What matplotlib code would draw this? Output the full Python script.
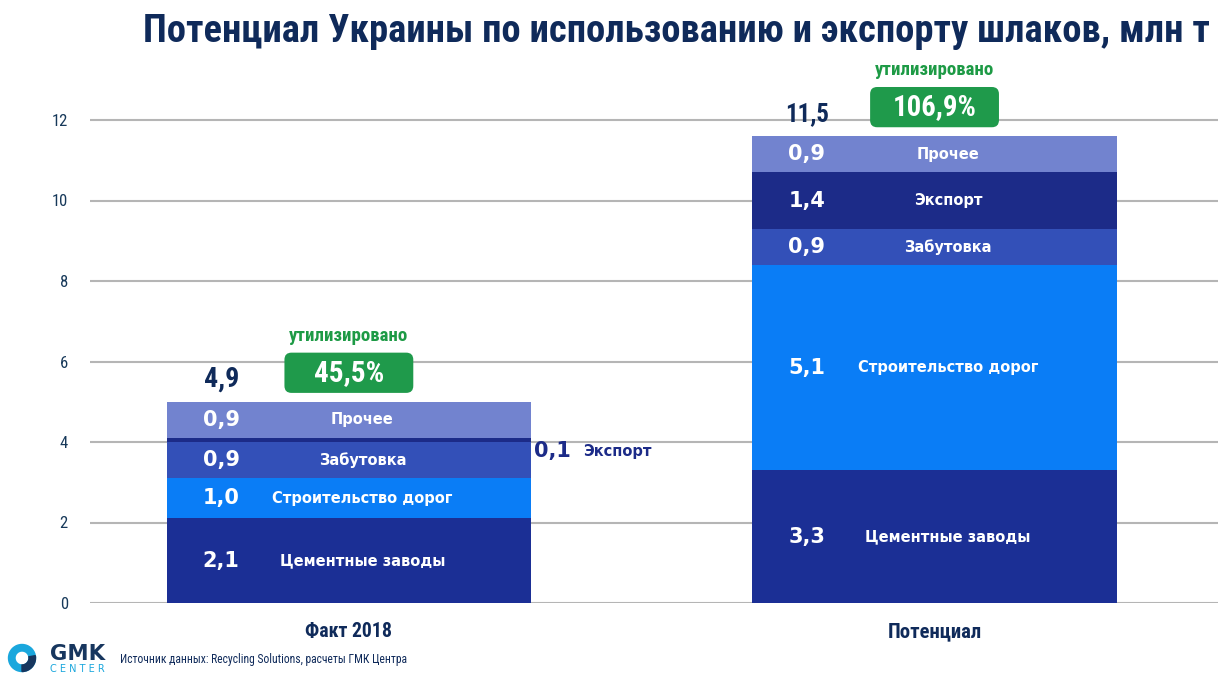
import matplotlib
matplotlib.use("Agg")
import matplotlib.pyplot as plt
from matplotlib.patches import FancyBboxPatch, Wedge

# ---- data ----
groups = ["Факт 2018", "Потенциал"]
segments = ["Цементные заводы", "Строительство дорог", "Забутовка", "Экспорт", "Прочее"]
fact_values = [2.1, 1.0, 0.9, 0.1, 0.9]
potential_values = [3.3, 5.1, 0.9, 1.4, 0.9]
totals = ["4,9", "11,5"]
utilized = ["45,5%", "106,9%"]
yticks = [0, 2, 4, 6, 8, 10, 12]

seg_colors = ["#1b2f95", "#0a7df6", "#3350b8", "#1c2b88", "#7283cf"]
navy = "#0f2a5a"
green = "#1f9a4b"

narrow = ["Liberation Sans Narrow", "Roboto Condensed", "Liberation Sans", "DejaVu Sans"]
plt.rcParams["font.family"] = narrow

W, H = 1218, 673
fig = plt.figure(figsize=(W / 100, H / 100), dpi=100)
fig.patch.set_facecolor("white")
renderer = fig.canvas.get_renderer()


def fit_width(txt, target_px):
    """Scale a text's font size so that it spans target_px pixels."""
    w = txt.get_window_extent(renderer=renderer).width
    if w > 0:
        txt.set_fontsize(txt.get_fontsize() * target_px / w)
    return txt


# axes: left edge at x=90px, value 0 at y=603px, 40.25px per unit
ax_left, ax_bottom_px, ax_top_px = 90, 603, 40
ppu = 40.25
ppx = 585.5  # pixels per x unit
ymax = (ax_bottom_px - ax_top_px) / ppu
ax = fig.add_axes([ax_left / W, (H - ax_bottom_px) / H, (W - ax_left) / W,
                   (ax_bottom_px - ax_top_px) / H])
ax.set_facecolor("white")

xpos = [0, 1]
bar_w = 0.622
ax.set_xlim(-0.442, 1.484)
ax.set_ylim(0, ymax)

for y in yticks:
    ax.axhline(y, color="#b5b5b5", lw=1.5, zorder=0)

for xi, vals in zip(xpos, [fact_values, potential_values]):
    bottom = 0
    for v, c in zip(vals, seg_colors):
        ax.bar(xi, v, bar_w, bottom=bottom, color=c, zorder=2, linewidth=0)
        bottom += v


def fmt(v):
    return f"{v:.1f}".replace(".", ",")


val_dx = -0.218
lab_dx = 0.023
for xi, vals in zip(xpos, [fact_values, potential_values]):
    bottom = 0
    for v, name in zip(vals, segments):
        mid = bottom + v / 2
        if v >= 0.5:
            ax.text(xi + val_dx, mid, fmt(v), color="white", fontsize=15,
                    fontweight="bold", family="DejaVu Sans", ha="center", va="center", zorder=3)
            ax.text(xi + lab_dx, mid, name, color="white", fontsize=10.5,
                    fontweight="bold", family="DejaVu Sans", ha="center", va="center", zorder=3)
        else:
            # thin segment: its label sits beside the bar
            ax.text(xi + bar_w / 2 + 0.036, mid - 0.28, fmt(v), color="#1c2b88", fontsize=15,
                    fontweight="bold", family="DejaVu Sans", ha="center", va="center", zorder=3)
            ax.text(xi + bar_w / 2 + 0.148, mid - 0.28, name, color="#1c2b88", fontsize=10.5,
                    fontweight="bold", family="DejaVu Sans", ha="center", va="center", zorder=3)
        bottom += v

# totals and utilisation boxes
for xi, vals, tot, ut in zip(xpos, [fact_values, potential_values], totals, utilized):
    top = sum(vals)
    t = ax.text(xi + val_dx, top + 0.55, tot, color=navy, fontsize=22, fontweight="bold",
                ha="center", va="center")
    fit_width(t, 35 if len(tot) == 3 else 44)
    bx, bw, bh = xi - 0.11, 0.22, 1.0
    by = top + 0.22
    box = FancyBboxPatch((bx, by), bw, bh, boxstyle="round,pad=0,rounding_size=0.012",
                         mutation_aspect=ppx / ppu, fc=green, ec="none", zorder=3)
    ax.add_patch(box)
    t = ax.text(xi, by + bh / 2, ut, color="white", fontsize=19, fontweight="bold",
                ha="center", va="center", zorder=4)
    fit_width(t, 70 if len(ut) == 5 else 84)
    t = ax.text(xi, by + bh + 0.42, "утилизировано", color="#1d9a45", fontsize=13,
                fontweight="bold", ha="center", va="center")
    fit_width(t, 119)

ax.set_xticks(xpos)
ax.set_xticklabels(groups, fontsize=15, fontweight="bold", color=navy)
for lab, target in zip(ax.get_xticklabels(), [87, 94]):
    fit_width(lab, target)
ax.set_yticks(yticks)
ax.set_yticklabels([str(t) for t in yticks], fontsize=12, color="#17395a")
ax.tick_params(axis="both", length=0)
ax.tick_params(axis="x", pad=14)
ax.tick_params(axis="y", pad=16)
for s in ax.spines.values():
    s.set_visible(False)

# title
title = fig.text(1210 / W, 1 - 32 / H,
                 "Потенциал Украины по использованию и экспорту шлаков, млн т",
                 ha="right", va="center", fontsize=30, fontweight="bold", color=navy)
fit_width(title, 1067)

# source note
src = fig.text(120 / W, 1 - 660 / H, "Источник данных: Recycling Solutions, расчеты ГМК Центра",
               ha="left", va="center", fontsize=10, color=navy)
fit_width(src, 288)

# logo
lax = fig.add_axes([0, 0, 1, 1], facecolor="none")
lax.set_xlim(0, W)
lax.set_ylim(H, 0)
lax.axis("off")
lax.add_patch(Wedge((22, 658), 13.5, 0, 360, width=6.5, color="#1aa7dd"))
lax.add_patch(Wedge((22, 658), 13.5, -10, 90, width=6.5, color="#17365e"))
g = lax.text(50, 654, "GMK", fontsize=18, fontweight="bold", color="#17365e",
             family="DejaVu Sans", va="center", ha="left")
fit_width(g, 55)
c = lax.text(50, 669, "C E N T E R", fontsize=7, color="#1aa7dd",
             family="DejaVu Sans", va="center", ha="left")
fit_width(c, 55)

fig.savefig("out.png", dpi=100, facecolor="white")
